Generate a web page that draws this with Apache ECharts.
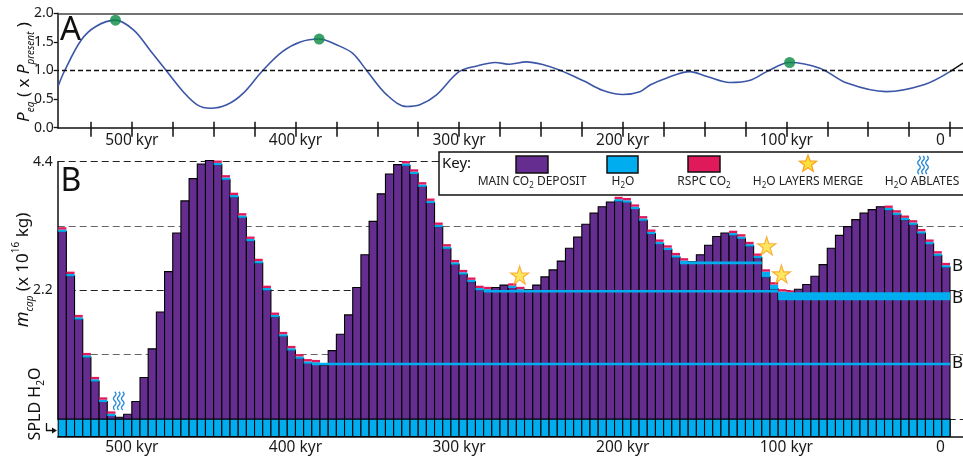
<!DOCTYPE html>
<html><head><meta charset="utf-8">
<script src="https://cdn.jsdelivr.net/npm/echarts@6/dist/echarts.min.js"></script>
<style>html,body{margin:0;padding:0;background:#fff}#c{width:963px;height:460px}</style>
</head><body><div id="c"></div>
<script>
// ---------------- DATA ----------------
// Panel A: equilibrium pressure curve (age kyr, P_eq / P_present)
const pEqCurve = [[545,0.73],[541,1.0],[531,1.53],[522,1.77],[510,1.88],[499,1.71],[489,1.36],[479,1.0],[468.6,0.63],[460,0.40],[452,0.34],[442,0.40],[432,0.60],[420,1.0],[408,1.33],[397,1.50],[385.5,1.55],[375,1.45],[365,1.30],[356.5,1.0],[344,0.57],[332,0.37],[324,0.40],[314,0.57],[300,0.98],[289,1.08],[278,1.14],[269,1.11],[259,1.15],[248.5,1.10],[238,1.0],[224,0.82],[212,0.65],[200,0.58],[189.5,0.63],[183,0.75],[173,0.87],[159,0.98],[149,0.90],[134.5,0.79],[122,0.83],[112,0.98],[98,1.14],[79.5,1.04],[63,0.78],[39,0.63],[16,0.75],[0,0.98]];
const pEqTail = [[0,0.98],[-8,1.13]];
const pEqPeaks = [[510,1.88],[385.5,1.55],[98,1.14]];
const pEqReference = 1.0;

// Panel B: bins (age centre, kyr), 5-kyr wide
const binWidth = 5;
const barAge = [542.5,537.5,532.5,527.5,522.5,517.5,512.5,507.5,502.5,497.5,492.5,487.5,482.5,477.5,472.5,467.5,462.5,457.5,452.5,447.5,442.5,437.5,432.5,427.5,422.5,417.5,412.5,407.5,402.5,397.5,392.5,387.5,382.5,377.5,372.5,367.5,362.5,357.5,352.5,347.5,342.5,337.5,332.5,327.5,322.5,317.5,312.5,307.5,302.5,297.5,292.5,287.5,282.5,277.5,272.5,267.5,262.5,257.5,252.5,247.5,242.5,237.5,232.5,227.5,222.5,217.5,212.5,207.5,202.5,197.5,192.5,187.5,182.5,177.5,172.5,167.5,162.5,157.5,152.5,147.5,142.5,137.5,132.5,127.5,122.5,117.5,112.5,107.5,102.5,97.5,92.5,87.5,82.5,77.5,72.5,67.5,62.5,57.5,52.5,47.5,42.5,37.5,32.5,27.5,22.5,17.5,12.5,7.5,2.5];
// main CO2 deposit mass (x 10^16 kg)
const mainCO2 = [3.21,2.45,1.71,1.06,0.65,0.30,0.06,0.03,0.08,0.30,
 0.71,1.20,1.83,2.52,3.18,3.73,4.11,4.36,4.42,4.35,
 4.10,3.80,3.45,3.05,2.67,2.21,1.75,1.42,1.18,1.04,
 0.955,0.94,0.92,1.17,1.45,1.78,2.25,2.81,3.38,3.85,
 4.19,4.35,4.34,4.20,3.98,3.70,3.29,2.92,2.65,2.48,
 2.35,2.21,2.19,2.25,2.29,2.25,2.19,2.21,2.29,2.43,
 2.55,2.70,2.92,3.11,3.33,3.52,3.63,3.71,3.73,3.71,
 3.60,3.40,3.17,3.00,2.90,2.77,2.68,2.69,2.81,2.97,
 3.12,3.18,3.15,3.09,2.96,2.76,2.435,2.225,2.15,2.13,
 2.22,2.30,2.44,2.64,2.92,3.14,3.29,3.41,3.52,3.58,
 3.63,3.58,3.50,3.41,3.33,3.18,3.00,2.80,2.60];
// H2O cap thickness
const h2oCap = [0.03,0.03,0.03,0.03,0.03,0.03,0.03,0,0,0,
 0,0,0,0,0,0,0,0,0,0.03,
 0.03,0.03,0.03,0.03,0.03,0.03,0.03,0.03,0.03,0.03,
 0.03,0.03,0,0,0,0,0,0,0,0,
 0,0,0.03,0.03,0.03,0.03,0.03,0.03,0.03,0.03,
 0.03,0.03,0.03,0,0,0.03,0.03,0,0,0,
 0,0,0,0,0,0,0,0,0.03,0.03,
 0.03,0.03,0.03,0.03,0.03,0.03,0.03,0,0,0,
 0,0,0.03,0.03,0.03,0.03,0.085,0.075,0.03,0.03,
 0,0,0,0,0,0,0,0,0,0,
 0,0.03,0.03,0.03,0.03,0.03,0.03,0.03,0.03];
// RSPC CO2 thickness
const rspcCO2 = [0.04,0.04,0.04,0.04,0.04,0.04,0.04,0,0,0,
 0,0,0,0,0,0,0,0,0,0.04,
 0.04,0.04,0.04,0.04,0.04,0.04,0.04,0.04,0.04,0.04,
 0.04,0.04,0,0,0,0,0,0,0,0,
 0,0,0.04,0.04,0.04,0.04,0.04,0.04,0.04,0.04,
 0.04,0.04,0.04,0,0,0.04,0.04,0,0,0,
 0,0,0,0,0,0,0,0,0.04,0.04,
 0.04,0.04,0.04,0.04,0.04,0.04,0.04,0,0,0,
 0,0,0.04,0.04,0.04,0.04,0.04,0.04,0.04,0.04,
 0,0,0,0,0,0,0,0,0,0,
 0,0.04,0.04,0.04,0.04,0.04,0.04,0.04,0.04];
const spldThickness = 0.30;
// buried H2O layers [age, mass]
const layerB3 = [[390,0.94],[0,0.94]];
const layerB2 = [[285,2.185],[105,2.185]];
const layerB1 = [[165,2.67],[115,2.67]];
const layerMerged = [[105,2.10],[0,2.10]];
const mergeStars = [[263,2.46],[112,2.96],[103,2.48]];
const ablateMarks = [[508,0.31]];

const tickAges = [0,25,50,75,100,125,150,175,200,225,250,275,300,325,350,375,400,425,450,475,500,525];
const labelAges = [0,100,200,300,400,500];
const mLabels = [2.2,4.4];

// ---------------- STYLE ----------------
const FONT = "'Noto Sans', 'Open Sans', sans-serif";
const PURPLE = '#662d91', CYAN = '#00aeef', RED = '#e0195a', BLUE = '#3b56a6', GREEN = '#0b8a44';
const STAR = 'path://M50,0 L61.2,34.5 L97.6,34.5 L68.2,55.9 L79.4,90.5 L50,69.1 L20.6,90.5 L31.8,55.9 L2.4,34.5 L38.8,34.5 Z';
const XMIN = -7.95, XMAX = 545.3;

const chart = echarts.init(document.getElementById('c'), null, {renderer: 'canvas'});

function ageLabel(v) { return v === 0 ? '{z|0}' : v + ' kyr'; }
const labelCommon = {fontFamily: FONT, fontSize: 15.5, color: '#1a1a1a',
  rich: {z: {fontFamily: FONT, fontSize: 15.5, color: '#1a1a1a', padding: [0, 19, 0, 0]}}};

function renderBars(params, api) {
  const age = api.value(0), main = api.value(1), h2o = api.value(2), rspc = api.value(3);
  const pL = api.coord([age + binWidth / 2, 0]);
  const pR = api.coord([age - binWidth / 2, 0]);
  const x = Math.min(pL[0], pR[0]), w = Math.abs(pR[0] - pL[0]);
  const y0 = pL[1];
  const yBase = api.coord([age, -spldThickness])[1];
  const yMain = api.coord([age, main])[1];
  const yH = api.coord([age, main + h2o])[1];
  const yR = api.coord([age, main + h2o + rspc])[1];
  const kids = [
    {type: 'rect', shape: {x: x, y: y0, width: w, height: yBase - y0}, style: {fill: CYAN, stroke: '#000', lineWidth: 1.1}},
    {type: 'rect', shape: {x: x, y: yMain, width: w, height: y0 - yMain}, style: {fill: PURPLE, stroke: '#000', lineWidth: 1.1}}
  ];
  if (h2o > 0) kids.push({type: 'rect', shape: {x: x, y: yH, width: w, height: yMain - yH + 0.6}, style: {fill: CYAN}});
  if (rspc > 0) kids.push({type: 'rect', shape: {x: x, y: yR, width: w, height: yH - yR}, style: {fill: RED}});
  return {type: 'group', children: kids};
}

function wavyLines(cx, cy) {
  const out = [];
  [-4, 0, 4].forEach(function (dx) {
    const pts = [];
    for (let k = 0; k <= 12; k++) pts.push([cx + dx + 1.3 * Math.sin(k * Math.PI / 3), cy - 9 + k * 1.5]);
    out.push({type: 'polyline', shape: {points: pts, smooth: 0.5}, style: {stroke: '#2a8ad8', lineWidth: 1.4, fill: null}});
  });
  return out;
}
function renderAblate(params, api) {
  const c = api.coord([api.value(0), api.value(1)]);
  return {type: 'group', children: wavyLines(c[0], c[1])};
}
function starPoints(cx, cy, r) {
  const pts = [];
  for (let k = 0; k < 10; k++) {
    const rr = k % 2 === 0 ? r : r * 0.42;
    const a = -Math.PI / 2 + k * Math.PI / 5;
    pts.push([cx + rr * Math.cos(a), cy + rr * Math.sin(a)]);
  }
  return pts;
}

const barData = barAge.map(function (a, i) { return [a, mainCO2[i], h2oCap[i], rspcCO2[i]]; });

const subRich = {
  t: {fontFamily: FONT, fontSize: 12, lineHeight: 16, fill: '#222'},
  s: {fontFamily: FONT, fontSize: 8, lineHeight: 8, verticalAlign: 'bottom', fill: '#222'}
};
function keyText(x, text) {
  return {type: 'text', x: x, y: 182, z: 102, style: {text: text, rich: subRich, fontFamily: FONT, fontSize: 12, fill: '#222', align: 'center', verticalAlign: 'middle'}};
}

const graphics = [
  {type: 'text', x: 70.5, y: 31, z: 100, style: {text: 'A', fontFamily: FONT, fontSize: 33, fill: '#111', align: 'center', verticalAlign: 'middle'}},
  {type: 'text', x: 71, y: 182, z: 100, style: {text: 'B', fontFamily: FONT, fontSize: 32, fill: '#111', align: 'center', verticalAlign: 'middle'}},
  {type: 'text', x: 24, y: 72, rotation: Math.PI / 2, z: 100, style: {
    text: '{p|P}{s|eq}{n| ( x }{p|P}{s|present}{n| )}', align: 'center', verticalAlign: 'middle',
    rich: {p: {fontFamily: FONT, fontSize: 17, fontStyle: 'italic', lineHeight: 24, fill: '#111'},
           n: {fontFamily: FONT, fontSize: 17, lineHeight: 24, fill: '#111'},
           s: {fontFamily: FONT, fontSize: 10, fontStyle: 'italic', lineHeight: 10, verticalAlign: 'bottom', fill: '#111'}}}},
  {type: 'text', x: 23, y: 270, rotation: Math.PI / 2, z: 100, style: {
    text: '{p|m}{s|cap}{n| (x 10}{u|16}{n| kg)}', align: 'center', verticalAlign: 'middle',
    rich: {p: {fontFamily: FONT, fontSize: 18, fontStyle: 'italic', lineHeight: 24, fill: '#111'},
           n: {fontFamily: FONT, fontSize: 17, lineHeight: 24, fill: '#111'},
           s: {fontFamily: FONT, fontSize: 10, fontStyle: 'italic', lineHeight: 10, verticalAlign: 'bottom', fill: '#111'},
           u: {fontFamily: FONT, fontSize: 10, lineHeight: 10, verticalAlign: 'top', fill: '#111'}}}},
  {type: 'text', x: 35, y: 404, rotation: Math.PI / 2, z: 100, style: {
    text: '{n|SPLD H}{s|2}{n|O}', align: 'center', verticalAlign: 'middle',
    rich: {n: {fontFamily: FONT, fontSize: 16, lineHeight: 22, fill: '#111'},
           s: {fontFamily: FONT, fontSize: 10, lineHeight: 10, verticalAlign: 'bottom', fill: '#111'}}}},
  {type: 'polyline', z: 100, shape: {points: [[46.5, 423], [46.5, 430.5], [53, 430.5]]}, style: {stroke: '#111', lineWidth: 1.3, fill: null}},
  {type: 'polygon', z: 100, shape: {points: [[52, 427.5], [57, 430.5], [52, 433.5]]}, style: {fill: '#111'}},
  {type: 'text', x: 952, y: 266, z: 100, style: {text: 'B', fontFamily: FONT, fontSize: 17, fill: '#111', align: 'left', verticalAlign: 'middle'}},
  {type: 'text', x: 952, y: 298, z: 100, style: {text: 'B', fontFamily: FONT, fontSize: 17, fill: '#111', align: 'left', verticalAlign: 'middle'}},
  {type: 'text', x: 952, y: 363, z: 100, style: {text: 'B', fontFamily: FONT, fontSize: 17, fill: '#111', align: 'left', verticalAlign: 'middle'}},
  {type: 'rect', z: 100, shape: {x: 439, y: 152, width: 540, height: 43}, style: {fill: '#fff', stroke: '#111', lineWidth: 1.5}},
  {type: 'text', x: 442, y: 163.5, z: 101, style: {text: 'Key:', fontFamily: FONT, fontSize: 15, fill: '#111', align: 'left', verticalAlign: 'middle'}},
  {type: 'rect', z: 101, shape: {x: 516, y: 156, width: 32, height: 17}, style: {fill: PURPLE, stroke: '#111', lineWidth: 1.5}},
  {type: 'rect', z: 101, shape: {x: 607, y: 156, width: 31, height: 17}, style: {fill: CYAN, stroke: '#111', lineWidth: 1.5}},
  {type: 'rect', z: 101, shape: {x: 688, y: 156, width: 32, height: 16}, style: {fill: RED, stroke: '#111', lineWidth: 1.5}},
  {type: 'polygon', z: 101, shape: {points: starPoints(808, 164, 9)}, style: {fill: '#ffe03a', stroke: '#f6a01e', lineWidth: 1.2}},
  keyText(532, '{t|MAIN CO}{s|2}{t| DEPOSIT}'),
  keyText(623, '{t|H}{s|2}{t|O}'),
  keyText(704, '{t|RSPC CO}{s|2}'),
  keyText(808, '{t|H}{s|2}{t|O LAYERS MERGE}'),
  keyText(922, '{t|H}{s|2}{t|O ABLATES}')
];
wavyLines(923, 165).forEach(function (e) { e.z = 101; graphics.push(e); });

const option = {
  animation: false,
  backgroundColor: '#fff',
  grid: [
    {left: 57.7, right: 0, top: 13.3, height: 114.4},
    {left: 57.7, right: 0, top: 161.7, height: 257.3}
  ],
  xAxis: [
    {gridIndex: 0, type: 'value', inverse: true, min: XMIN, max: XMAX, position: 'bottom',
     axisLine: {onZero: false, lineStyle: {color: '#111', width: 1.5}},
     axisTick: {show: true, customValues: tickAges, length: 9, lineStyle: {color: '#111', width: 1.5}},
     axisLabel: Object.assign({customValues: labelAges, formatter: ageLabel, margin: 5}, labelCommon),
     splitLine: {show: false}},
    {gridIndex: 0, type: 'value', inverse: true, min: XMIN, max: XMAX, position: 'bottom',
     axisLine: {show: false, onZero: false},
     axisTick: {show: true, inside: true, customValues: tickAges, length: 6, lineStyle: {color: '#111', width: 1.5}},
     axisLabel: {show: false}, splitLine: {show: false}},
    {gridIndex: 0, type: 'value', inverse: true, min: XMIN, max: XMAX, position: 'top',
     axisLine: {onZero: false, lineStyle: {color: '#444', width: 1.5}}, axisTick: {show: false}, axisLabel: {show: false}, splitLine: {show: false}},
    {gridIndex: 1, type: 'value', inverse: true, min: XMIN, max: XMAX, position: 'bottom', offset: 17.7,
     axisLine: {onZero: false, lineStyle: {color: '#111', width: 1.5}},
     axisTick: {show: true, inside: true, customValues: tickAges, length: 17, lineStyle: {color: '#111', width: 1.5}},
     axisLabel: Object.assign({customValues: labelAges, formatter: ageLabel, margin: 3}, labelCommon),
     splitLine: {show: false}}
  ],
  yAxis: [
    {gridIndex: 0, type: 'value', min: 0, max: 2, interval: 0.5, position: 'left',
     axisLine: {show: true, onZero: false, lineStyle: {color: '#111', width: 1.5}},
     axisTick: {show: true, length: 4, lineStyle: {color: '#111', width: 1.3}},
     axisLabel: {fontFamily: FONT, fontSize: 14, color: '#1a1a1a', margin: 4, formatter: function (v) { return v.toFixed(1); }},
     splitLine: {show: false}},
    {gridIndex: 1, type: 'value', min: 0, max: 4.4, interval: 1.1, position: 'left',
     axisLine: {show: true, onZero: false, lineStyle: {color: '#111', width: 1.5}},
     axisTick: {show: false},
     axisLabel: {fontFamily: FONT, fontSize: 14, color: '#1a1a1a', margin: 5,
       formatter: function (v) { for (const m of mLabels) { if (Math.abs(v - m) < 1e-6) return m.toFixed(1); } return ''; }},
     splitLine: {show: true, lineStyle: {color: ['#222', '#666'], width: 1.2, type: [7, 4]}}}
  ],
  series: [
    {name: 'Peq', type: 'line', xAxisIndex: 0, yAxisIndex: 0, data: pEqCurve, smooth: 0.35, showSymbol: false,
     lineStyle: {color: BLUE, width: 1.6}, z: 3,
     markLine: {silent: true, symbol: ['none', 'none'], label: {show: false},
       lineStyle: {color: '#111', type: [5, 3], width: 1.3}, data: [{yAxis: pEqReference}]}},
    {name: 'tail', type: 'line', xAxisIndex: 0, yAxisIndex: 0, data: pEqTail, showSymbol: false,
     lineStyle: {color: '#111', width: 1.5}, z: 3},
    {name: 'peaks', type: 'scatter', xAxisIndex: 0, yAxisIndex: 0, data: pEqPeaks, symbolSize: 11,
     itemStyle: {color: GREEN}, z: 5},
    {name: 'mcap', type: 'custom', xAxisIndex: 3, yAxisIndex: 1, data: barData, renderItem: renderBars,
     clip: false, encode: {x: 0, y: 1}, z: 2},
    {name: 'B3', type: 'line', xAxisIndex: 3, yAxisIndex: 1, data: layerB3, showSymbol: false, lineStyle: {color: CYAN, width: 2.6}, z: 4},
    {name: 'B2', type: 'line', xAxisIndex: 3, yAxisIndex: 1, data: layerB2, showSymbol: false, lineStyle: {color: CYAN, width: 2.6}, z: 4},
    {name: 'B1', type: 'line', xAxisIndex: 3, yAxisIndex: 1, data: layerB1, showSymbol: false, lineStyle: {color: CYAN, width: 2.6}, z: 4},
    {name: 'merged', type: 'line', xAxisIndex: 3, yAxisIndex: 1, data: layerMerged, showSymbol: false, lineStyle: {color: CYAN, width: 8, cap: 'butt'}, z: 4},
    {name: 'stars', type: 'scatter', xAxisIndex: 3, yAxisIndex: 1, data: mergeStars, symbol: STAR, symbolSize: 18,
     itemStyle: {color: '#ffe03a', borderColor: '#f6a01e', borderWidth: 1.2}, z: 6},
    {name: 'ablate', type: 'custom', xAxisIndex: 3, yAxisIndex: 1, data: ablateMarks, renderItem: renderAblate, clip: false, z: 6}
  ],
  graphic: graphics
};
chart.setOption(option);
</script></body></html>
